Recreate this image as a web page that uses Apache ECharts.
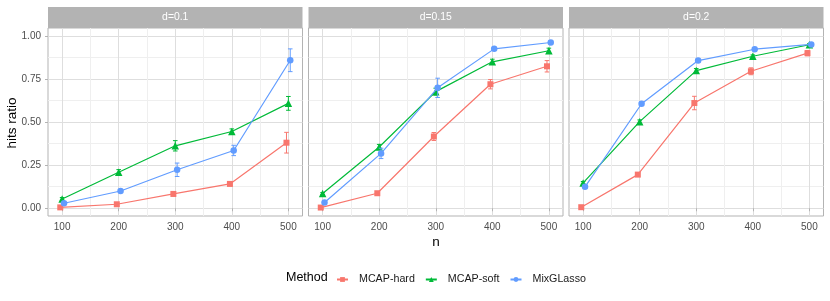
<!DOCTYPE html>
<html><head><meta charset="utf-8">
<script src="https://cdn.jsdelivr.net/npm/echarts@6/dist/echarts.min.js"></script>
<style>html,body{margin:0;padding:0;background:#fff}#c{width:830px;height:301px}</style>
</head><body><div id="c"></div>
<script>
// ---------- data ----------
const nValues = [100, 200, 300, 400, 500];
const panels = ['d=0.1', 'd=0.15', 'd=0.2'];
const methods = ['MCAP-hard', 'MCAP-soft', 'MixGLasso'];
const xTicks = [100, 200, 300, 400, 500];
const yTicks = [0, 0.25, 0.5, 0.75, 1];

// hits ratio means
const hard_d01  = [0.005, 0.023, 0.083, 0.141, 0.380];
const soft_d01  = [0.054, 0.209, 0.362, 0.445, 0.608];
const lasso_d01 = [0.029, 0.100, 0.223, 0.335, 0.858];
const hard_d015  = [0.004, 0.087, 0.416, 0.719, 0.823];
const soft_d015  = [0.085, 0.355, 0.676, 0.849, 0.913];
const lasso_d015 = [0.033, 0.318, 0.698, 0.924, 0.961];
const hard_d02  = [0.006, 0.195, 0.610, 0.794, 0.899];
const soft_d02  = [0.147, 0.502, 0.798, 0.881, 0.948];
const lasso_d02 = [0.124, 0.606, 0.856, 0.922, 0.950];

// error bar half-widths
const hardErr_d01  = [0.005, 0.006, 0.012, 0.010, 0.060];
const softErr_d01  = [0.008, 0.015, 0.030, 0.015, 0.040];
const lassoErr_d01 = [0.006, 0.008, 0.039, 0.030, 0.066];
const hardErr_d015  = [0.004, 0.008, 0.023, 0.027, 0.033];
const softErr_d015  = [0.006, 0.015, 0.020, 0.015, 0.015];
const lassoErr_d015 = [0.006, 0.030, 0.056, 0.008, 0.006];
const hardErr_d02  = [0.004, 0.008, 0.039, 0.020, 0.015];
const softErr_d02  = [0.008, 0.010, 0.012, 0.008, 0.006];
const lassoErr_d02 = [0.008, 0.010, 0.008, 0.006, 0.005];

const values = [[hard_d01, soft_d01, lasso_d01], [hard_d015, soft_d015, lasso_d015], [hard_d02, soft_d02, lasso_d02]];
const errors = [[hardErr_d01, softErr_d01, lassoErr_d01], [hardErr_d015, softErr_d015, lassoErr_d015], [hardErr_d02, softErr_d02, lassoErr_d02]];

// ---------- styles ----------
const FONT = 'Liberation Sans, Arial, sans-serif';
const colors = ['#F8766D', '#00BA38', '#619CFF'];
const symbols = ['rect', 'triangle', 'circle'];
const symbolSizes = [6, 7.5, 6.5];
const dodge = [-3.33, 0, 3.33];
const gridLefts = [48, 308.5, 569];
const gridW = 254.5, gridTop = 28, gridH = 188;
const major = '#DEDEDE', minor = '#EFEFEF', none = 'rgba(0,0,0,0)';

const yMinorColors = [];
for (let i = 0; i < 50; i++) yMinorColors.push(i === 34 ? minor : none);
const xMinorColors = [none, none, none, minor];

const grids = [], xAxes = [], yAxes = [], series = [], graphics = [];
panels.forEach((p, pi) => {
  grids.push({left: gridLefts[pi], top: gridTop, width: gridW, height: gridH, show: true,
    borderColor: '#B3B3B3', borderWidth: 1, backgroundColor: 'transparent', containLabel: false});
  // primary x axis (major grid, ticks, labels)
  xAxes.push({type: 'value', gridIndex: pi, min: 75, max: 525, interval: 25, position: 'bottom',
    axisLine: {show: false},
    axisTick: {show: true, customValues: xTicks, length: 3, lineStyle: {color: '#B3B3B3'}},
    axisLabel: {customValues: xTicks, color: '#4D4D4D', fontSize: 10, margin: 6, fontFamily: FONT},
    splitLine: {show: true, lineStyle: {color: major, width: 1}}});
  // secondary x axis (minor grid only)
  xAxes.push({type: 'value', gridIndex: pi, min: 75, max: 525, interval: 25, position: 'top',
    axisLine: {show: false}, axisTick: {show: false}, axisLabel: {show: false},
    splitLine: {show: true, lineStyle: {color: xMinorColors, width: 1}}});
  yAxes.push({type: 'value', gridIndex: pi, min: -0.045, max: 1.045, interval: 0.005, position: 'left',
    axisLine: {show: false},
    axisTick: {show: pi === 0, customValues: yTicks, length: 3, lineStyle: {color: '#B3B3B3'}},
    axisLabel: {show: pi === 0, customValues: yTicks, formatter: v => v.toFixed(2),
      color: '#4D4D4D', fontSize: 10, margin: 7, fontFamily: FONT},
    splitLine: {show: true, lineStyle: {color: major, width: 1}}});
  yAxes.push({type: 'value', gridIndex: pi, min: -0.045, max: 1.045, interval: 0.005, position: 'right',
    axisLine: {show: false}, axisTick: {show: false}, axisLabel: {show: false},
    splitLine: {show: true, lineStyle: {color: yMinorColors, width: 1}}});
  graphics.push({type: 'rect', left: gridLefts[pi], top: 7, shape: {width: gridW, height: 21},
    style: {fill: '#B3B3B3'}, silent: true});
  graphics.push({type: 'text', x: gridLefts[pi] + gridW / 2, y: 17.5,
    style: {text: p, fill: '#FFFFFF', fontSize: 10.4, align: 'center', verticalAlign: 'middle',
      fontFamily: FONT}, silent: true});

  methods.forEach((m, mi) => {
    const vals = values[pi][mi], errs = errors[pi][mi], col = colors[mi];
    series.push({type: 'line', name: m, xAxisIndex: 2 * pi, yAxisIndex: 2 * pi,
      data: nValues.map((n, i) => [n + dodge[mi], vals[i]]),
      symbol: symbols[mi], symbolSize: symbolSizes[mi], showSymbol: true,
      lineStyle: {color: col, width: 1.2}, itemStyle: {color: col}, z: 3 + mi, animation: false});
    series.push({type: 'custom', name: m + ' error', xAxisIndex: 2 * pi, yAxisIndex: 2 * pi,
      data: nValues.map((n, i) => [n + dodge[mi], vals[i] - errs[i], vals[i] + errs[i]]),
      encode: {x: 0, y: [1, 2]}, z: 3 + mi, animation: false,
      renderItem: (params, api) => {
        const x = api.value(0);
        const lo = api.coord([x, api.value(1)]);
        const hi = api.coord([x, api.value(2)]);
        const hw = 2.3, st = {stroke: col, lineWidth: 1};
        return {type: 'group', children: [
          {type: 'line', shape: {x1: lo[0], y1: lo[1], x2: hi[0], y2: hi[1]}, style: st},
          {type: 'line', shape: {x1: lo[0] - hw, y1: lo[1], x2: lo[0] + hw, y2: lo[1]}, style: st},
          {type: 'line', shape: {x1: hi[0] - hw, y1: hi[1], x2: hi[0] + hw, y2: hi[1]}, style: st}
        ]};
      }});
  });
});

graphics.push({type: 'text', x: 12, y: 123, rotation: Math.PI / 2,
  style: {text: 'hits ratio', fill: '#000', fontSize: 13.5, align: 'center', verticalAlign: 'middle',
    fontFamily: FONT}});
graphics.push({type: 'text', x: 436, y: 242,
  style: {text: 'n', fill: '#000', fontSize: 13.5, align: 'center', verticalAlign: 'middle',
    fontFamily: FONT}});
graphics.push({type: 'text', x: 286, y: 277.7,
  style: {text: 'Method', fill: '#000', fontSize: 12.5, align: 'left', verticalAlign: 'middle',
    fontFamily: FONT}});

const chart = echarts.init(document.getElementById('c'), null, {renderer: 'canvas'});
chart.setOption({
  animation: false,
  backgroundColor: '#FFFFFF',
  grid: grids, xAxis: xAxes, yAxis: yAxes, series: series, graphic: graphics,
  legend: {data: methods, left: 331, top: 269, itemWidth: 11, itemHeight: 6, itemGap: 10,
    textStyle: {fontSize: 10.7, color: '#1A1A1A', padding: [0, 0, 0, 6], fontFamily: FONT},
    selectedMode: false}
});
</script></body></html>
